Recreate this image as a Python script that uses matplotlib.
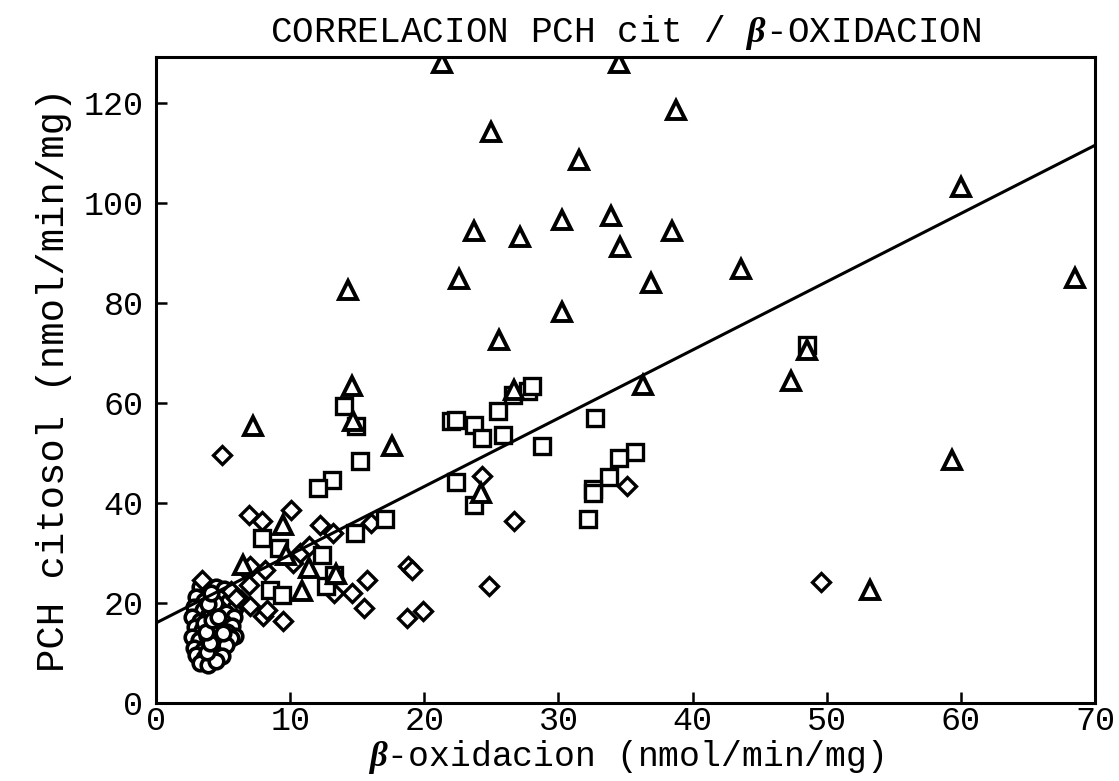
import matplotlib
matplotlib.use("Agg")
from matplotlib import pyplot as plt
import numpy as np

plt.rcParams['font.family'] = ['Liberation Mono', 'DejaVu Sans']
plt.rcParams['mathtext.fontset'] = 'custom'
plt.rcParams['mathtext.rm'] = 'Liberation Mono'
plt.rcParams['mathtext.bf'] = 'Liberation Serif:bold:italic'
plt.rcParams['mathtext.it'] = 'Liberation Mono:italic'

# triangles
tri_x = [21.3, 34.5, 38.8, 25.0, 31.5, 60.0, 33.9, 30.3, 23.7, 38.5, 27.1, 34.6,
         43.6, 68.5, 22.6, 36.9, 14.3, 30.3, 25.6, 48.5, 47.3, 36.3, 14.6, 26.7,
         14.7, 7.2, 17.6, 59.3, 24.2, 9.5, 53.2, 9.7, 11.4, 10.9, 6.5, 13.4]
tri_y = [128.0, 128.0, 118.7, 114.3, 108.7, 103.2, 97.4, 96.7, 94.5, 94.5, 93.3, 91.3,
         86.9, 85.1, 84.9, 84.1, 82.6, 78.1, 72.6, 70.5, 64.3, 63.6, 63.3, 62.6,
         56.3, 55.4, 51.3, 48.5, 41.9, 35.6, 22.5, 29.6, 26.9, 22.3, 27.6, 25.8]

# squares
sq_x = [14.0, 14.9, 15.2, 13.1, 12.1, 22.0, 22.4, 23.7, 24.3, 25.9, 25.5, 26.6,
        27.7, 28.0, 28.8, 32.7, 22.4, 23.7, 35.7, 34.5, 33.8, 32.6, 32.6, 32.2,
        48.5, 17.1, 14.8, 7.9, 9.2, 12.4, 8.5, 9.4, 12.7, 13.3]
sq_y = [59.4, 55.4, 48.3, 44.6, 42.9, 56.3, 56.5, 55.6, 52.9, 53.6, 58.4, 61.6,
        62.3, 63.4, 51.3, 56.9, 44.1, 39.6, 50.1, 48.9, 45.1, 42.7, 42.0, 36.7,
        71.5, 36.8, 33.9, 32.9, 30.9, 29.6, 22.6, 21.6, 23.3, 25.6]

# diamonds
dm_x = [4.9, 6.9, 7.9, 10.1, 12.2, 13.2, 16.0, 6.8, 7.0, 8.1, 6.9, 6.3, 7.0, 8.0,
        9.5, 3.4, 10.2, 10.7, 11.4, 13.3, 14.6, 15.5, 15.7, 18.8, 19.1, 18.7, 19.9,
        24.3, 26.7, 24.8, 35.1, 49.6, 8.3, 5.6, 6.0]
dm_y = [49.6, 37.6, 36.3, 38.6, 35.6, 33.9, 35.9, 26.3, 27.3, 26.6, 23.6, 20.6, 19.3, 17.3,
        16.3, 24.6, 27.9, 29.9, 31.3, 21.9, 21.9, 18.9, 24.6, 27.3, 26.5, 16.9, 18.3,
        45.3, 36.3, 23.3, 43.4, 24.1, 18.6, 22.4, 21.0]

# circles (dense cluster at low values)
ci_x = [3.3, 3.9, 4.5, 5.1, 5.7, 6.1, 3.0, 3.6, 4.2, 4.8, 5.4, 5.9, 2.8, 3.5, 4.0,
        4.7, 5.2, 5.8, 2.7, 3.3, 3.9, 4.5, 5.0, 5.7, 2.9, 3.4, 4.1, 4.6, 5.3, 5.9,
        2.7, 3.2, 3.8, 4.4, 5.1, 5.6, 2.8, 3.5, 4.0, 4.7, 5.2, 3.0, 3.6, 4.3, 4.9,
        3.3, 3.9, 4.5, 3.8, 4.3, 3.6, 4.1, 4.4, 4.0, 3.7, 4.2, 4.6, 3.9, 4.1, 5.0]
ci_y = [23.1, 22.4, 23.2, 22.7, 21.8, 20.6, 21.2, 20.4, 21.5, 20.9, 20.1, 18.9, 19.1, 18.5, 19.4,
        18.7, 18.0, 17.2, 17.1, 16.4, 17.3, 16.6, 16.1, 15.3, 15.1, 14.5, 15.4, 14.7, 14.2, 13.4,
        13.1, 12.6, 13.3, 12.7, 12.2, 12.9, 11.0, 10.6, 11.3, 10.8, 11.5, 9.6, 9.0, 9.5, 9.3,
        8.0, 7.5, 8.3, 10.1, 14.0, 16.0, 18.0, 20.0, 12.0, 14.1, 16.6, 17.1, 19.7, 22.0, 13.9]

# regression line
fit_b = 16.0
fit_m = 1.365

fig = plt.figure(figsize=(11.19, 7.81), dpi=100)
ax = fig.add_axes([0.1394, 0.0999, 0.8392, 0.8271])

mk = dict(linestyle='none', markerfacecolor='white', markeredgecolor='black')
ax.plot(ci_x, ci_y, marker='o', markersize=10.5, markeredgewidth=2.6, **mk)
ax.plot(dm_x, dm_y, marker='D', markersize=9.5, markeredgewidth=2.4, **mk)
ax.plot(sq_x, sq_y, marker='s', markersize=11.5, markeredgewidth=2.4, **mk)
ax.plot(tri_x, tri_y, marker='^', markersize=13, markeredgewidth=2.8, **mk)

xl = np.array([0, 70])
ax.plot(xl, fit_b + fit_m * xl, color='black', linewidth=2.2)

ax.set_xlim(0, 70)
ax.set_ylim(0, 129.2)
ax.set_xticks(range(0, 71, 10))
ax.set_yticks(range(0, 121, 20))
ax.tick_params(direction='in', length=8, width=1.8, top=False, right=False)
ax.tick_params(axis='x', pad=2, labelsize=24)
ax.tick_params(axis='y', pad=9, labelsize=24)
for s in ax.spines.values():
    s.set_linewidth(2.2)

ax.set_title(r'CORRELACION PCH cit / $\mathbf{\beta}$-OXIDACION', fontsize=26, pad=11)
ax.set_xlabel(r'$\mathbf{\beta}$-oxidacion (nmol/min/mg)', fontsize=25, labelpad=1)
ax.set_ylabel('PCH citosol (nmol/min/mg)', fontsize=28, labelpad=8)

fig.savefig('out.png', dpi=100)
